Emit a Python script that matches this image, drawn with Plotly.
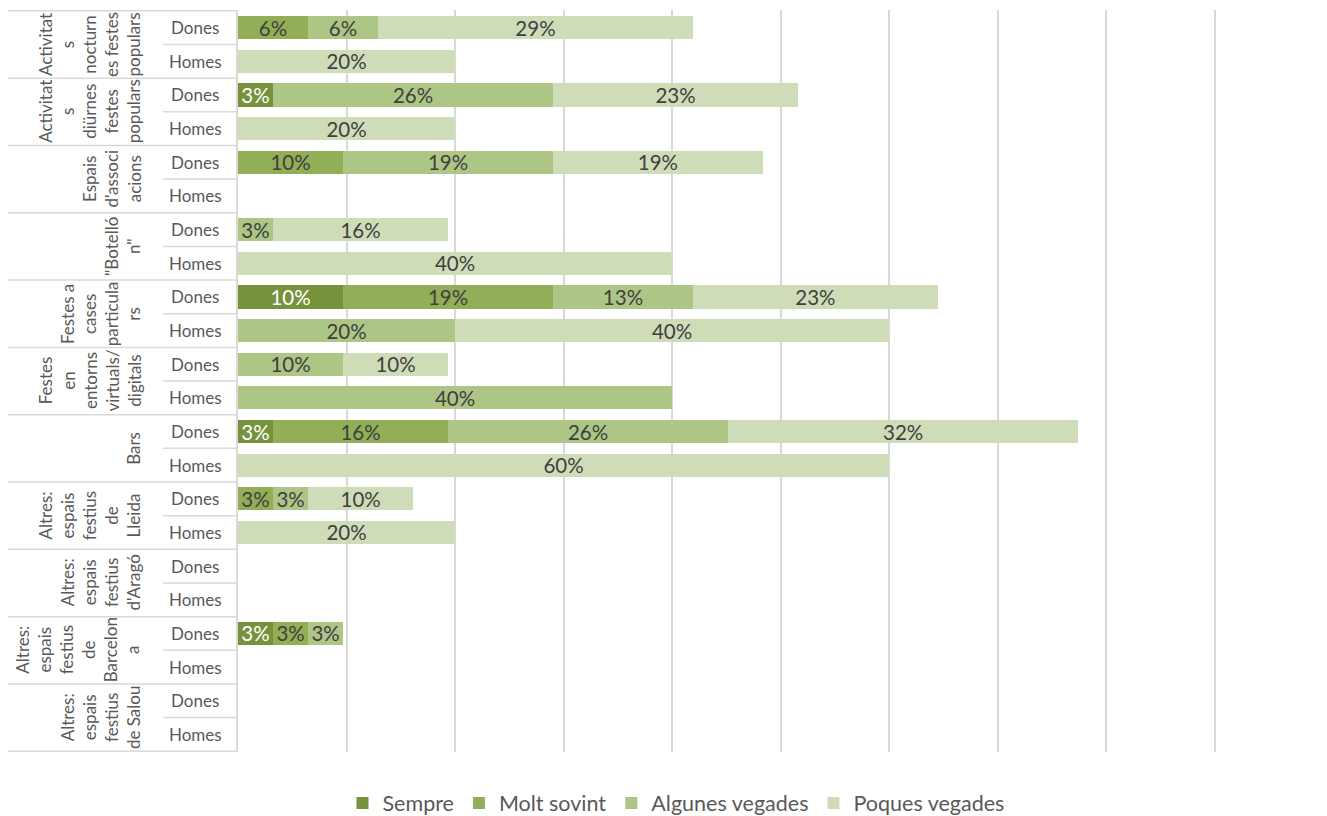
import plotly.graph_objects as go

# Categories (top to bottom) and wrapped labels as they appear on the axis
groups = [
    "Activitat<br>s<br>nocturn<br>es festes<br>populars",
    "Activitat<br>s<br>diürnes<br>festes<br>populars",
    "Espais<br>d'associ<br>acions",
    "\"Botelló<br>n\"",
    "Festes a<br>cases<br>particula<br>rs",
    "Festes<br>en<br>entorns<br>virtuals/<br>digitals",
    "Bars",
    "Altres:<br>espais<br>festius<br>de<br>Lleida",
    "Altres:<br>espais<br>festius<br>d'Aragó",
    "Altres:<br>espais<br>festius<br>de<br>Barcelon<br>a",
    "Altres:<br>espais<br>festius<br>de Salou",
]
sexes = ["Dones", "Homes"]

# Series values (%), one entry per (group, sex) row
sempre = [None, None, 3.23, None, None, None, None, None, 9.68, None, None,
          None, 3.23, None, None, None, None, None, 3.23, None, None, None]
molt_sovint = [6.45, None, None, None, 9.68, None, None, None, 19.35, None, None,
               None, 16.13, None, 3.23, None, None, None, 3.23, None, None, None]
algunes_vegades = [6.45, None, 25.81, None, 19.35, None, 3.23, None, 12.90, 20, 9.68,
                   40, 25.81, None, 3.23, None, None, None, 3.23, None, None, None]
poques_vegades = [29.03, 20, 22.58, 20, 19.35, None, 16.13, 40, 22.58, 40, 9.68,
                  None, 32.26, 60, 9.68, 20, None, None, None, None, None, None]

series = [
    ("Sempre", sempre, "#77923c", "white"),
    ("Molt sovint", molt_sovint, "#92ae56", "#404040"),
    ("Algunes vegades", algunes_vegades, "#adc585", "#404040"),
    ("Poques vegades", poques_vegades, "#cfdcb8", "#404040"),
]

FONT = "Lato"
rows = [f"{g}|{s}" for g in range(len(groups)) for s in sexes]

fig = go.Figure()
for name, vals, color, tcolor in series:
    fig.add_trace(go.Bar(
        y=rows, x=vals, name=name, orientation="h",
        marker=dict(color=color, line=dict(width=0)),
        texttemplate="%{x:.0f}%", textposition="inside",
        insidetextanchor="middle", constraintext="none",
        textfont=dict(family=FONT, size=20.5, color=tcolor),
        hoverinfo="skip",
    ))

# page body has an 8px margin; the figure is a bit taller than the window so
# the legend never pushes the bottom margin
OFF = 8
W, H = 1327 - OFF, 840
L, R, T = 238 - OFF, 4, 10 - OFF
B = H - (752 - OFF)
pw = W - L - R
ph = H - T - B


def px(xpix):
    return (xpix - OFF - L) / pw


shapes = []
line_style = dict(color="#d9d9d9", width=1.5)
for k in range(len(groups) + 1):
    shapes.append(dict(type="line", xref="paper", yref="y", x0=px(8), x1=0,
                       y0=2 * k - 0.5, y1=2 * k - 0.5, line=line_style))
for k in range(len(groups)):
    shapes.append(dict(type="line", xref="paper", yref="y", x0=px(163), x1=0,
                       y0=2 * k + 0.5, y1=2 * k + 0.5, line=line_style))

annotations = []
for i, r in enumerate(rows):
    annotations.append(dict(
        text=r.split("|")[1], xref="paper", yref="y", x=px(195), y=i,
        xanchor="center", yanchor="middle", showarrow=False,
        font=dict(family=FONT, size=17, color="#595959"),
    ))
for k, g in enumerate(groups):
    annotations.append(dict(
        text=g, xref="paper", yref="y", x=px(146), y=2 * k + 0.5,
        xanchor="right", yanchor="middle", showarrow=False, textangle=-90,
        align="center", font=dict(family=FONT, size=17, color="#595959"),
    ))

fig.update_layout(
    barmode="stack",
    bargap=0.31,
    width=W, height=H,
    margin=dict(l=L, r=R, t=T, b=B, pad=0),
    plot_bgcolor="white", paper_bgcolor="white",
    font=dict(family=FONT, size=17, color="#595959"),
    xaxis=dict(range=[0, 100], dtick=10, showticklabels=False,
               showgrid=True, gridcolor="#d9d9d9", gridwidth=2,
               zeroline=False, fixedrange=True),
    yaxis=dict(type="category", autorange="reversed", showticklabels=False,
               showgrid=False, showline=True, linecolor="#d9d9d9", linewidth=2,
               zeroline=False),
    legend=dict(orientation="h", x=px(676), xanchor="center",
                y=-(803 - 752) / ph, yanchor="middle", traceorder="normal",
                itemwidth=30,
                font=dict(family=FONT, size=21.5, color="#595959")),
    shapes=shapes,
    annotations=annotations,
)

fig.write_html("out.html")
